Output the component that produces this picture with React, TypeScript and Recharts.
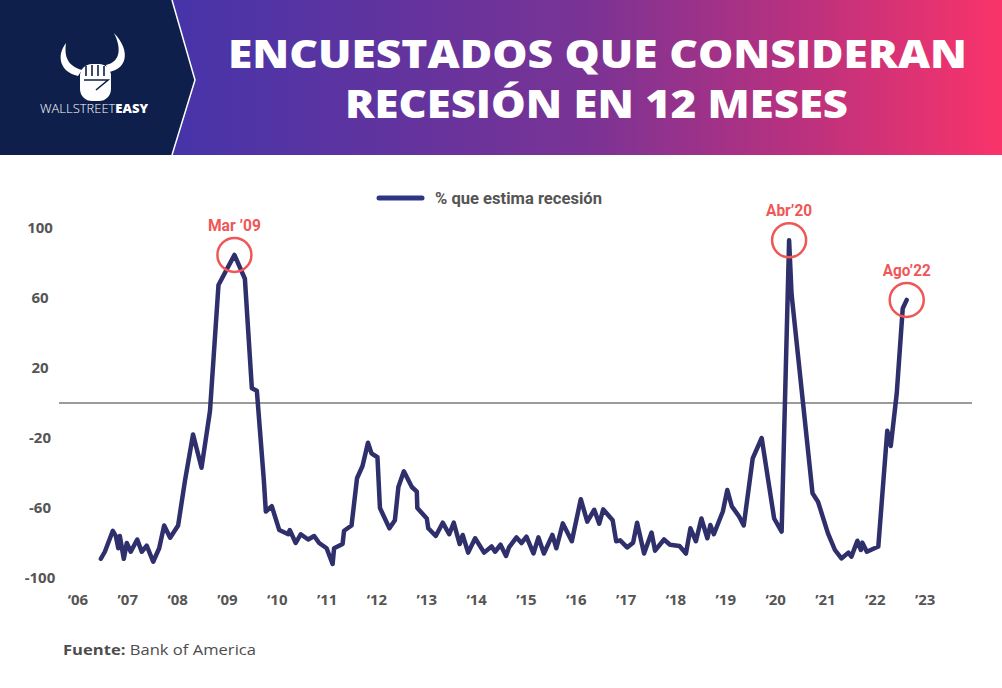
import { LineChart, Line, XAxis, YAxis, ReferenceLine, ReferenceDot } from "recharts";

// decimal year of each point
const dates = [
  2006.46, 2006.54, 2006.7, 2006.76, 2006.81, 2006.84, 2006.92, 2006.98, 2007.06, 2007.19,
  2007.28, 2007.38, 2007.51, 2007.63, 2007.73, 2007.85, 2008.01, 2008.15, 2008.31, 2008.48,
  2008.65, 2008.82, 2009.14, 2009.35, 2009.49, 2009.59, 2009.73, 2009.77, 2009.89, 2010.04,
  2010.22, 2010.25, 2010.37, 2010.47, 2010.62, 2010.74, 2010.84, 2010.99, 2011.11, 2011.14,
  2011.31, 2011.34, 2011.49, 2011.6, 2011.71, 2011.82, 2011.89, 2012.01, 2012.06, 2012.25,
  2012.36, 2012.43, 2012.54, 2012.7, 2012.8, 2012.81, 2013.0, 2013.03, 2013.18, 2013.32,
  2013.45, 2013.54, 2013.66, 2013.72, 2013.83, 2013.97, 2014.15, 2014.3, 2014.37, 2014.48,
  2014.59, 2014.65, 2014.8, 2014.9, 2015.0, 2015.14, 2015.24, 2015.35, 2015.52, 2015.6,
  2015.73, 2015.91, 2016.09, 2016.22, 2016.36, 2016.46, 2016.54, 2016.73, 2016.8, 2016.88,
  2017.02, 2017.14, 2017.22, 2017.36, 2017.51, 2017.58, 2017.76, 2017.88, 2018.07, 2018.2,
  2018.29, 2018.4, 2018.51, 2018.63, 2018.69, 2018.76, 2018.94, 2019.03, 2019.12, 2019.27,
  2019.36, 2019.54, 2019.72, 2019.97, 2020.12, 2020.27, 2020.32, 2020.74, 2020.85, 2021.05,
  2021.19, 2021.32, 2021.46, 2021.52, 2021.64, 2021.71, 2021.74, 2021.83, 2022.06, 2022.24,
  2022.31, 2022.43, 2022.55, 2022.63,
];

// % que estima recesión
const values = [
  -89, -85, -73, -76, -83, -76, -89, -80, -85, -78,
  -85, -81.5, -90.7, -83, -70, -77, -70, -44, -18, -37,
  -4.5, 67.4, 84.6, 71, 8.4, 7, -44, -62, -59, -72.6,
  -75, -72.6, -80, -75, -78, -76, -80, -83, -92, -83,
  -80.6, -73, -70, -43, -36, -22.7, -28.8, -31, -60, -71.6,
  -67, -48, -39, -48, -50.7, -60, -66, -71.6, -76, -68.4,
  -75, -68.4, -80.6, -75.4, -85.5, -77.3, -85.5, -82, -85, -81,
  -87.4, -82.5, -76.8, -80, -76.4, -86, -76.8, -86, -75.4, -83,
  -68.8, -79, -55, -67.8, -61, -69, -60.8, -67, -79, -78.5,
  -82.5, -79.8, -68.4, -86, -74, -84.4, -78, -81, -81.7, -86,
  -71.6, -79, -66, -77.3, -69.7, -75, -62, -49.7, -59, -65,
  -70, -31.6, -20, -66, -73.5, 93, 62, -51.6, -56.4, -74.5,
  -84, -88.8, -85.5, -87.8, -78.7, -84, -79.8, -85, -82, -15.8,
  -24.6, 5.5, 54, 58.9,
];

const tickYears = [
  2006, 2007, 2008, 2009, 2010, 2011, 2012, 2013, 2014, 2015, 2016, 2017, 2018, 2019, 2020,
  2021, 2022, 2023,
];
const tickLabels = [
  "‘06", "’07", "‘08", "’09", "‘10", "’11", "‘12", "’13", "‘14", "’15", "‘16", "’17", "‘18",
  "’19", "‘20", "’21", "‘22", "’23",
];
const yTicks = [100, 60, 20, -20, -60, -100];

const annotationDates = [2009.14, 2020.27, 2022.63];
const annotationLabels = ["Mar ’09", "Abr’20", "Ago’22"];
const annotationTextWidths = [53, 46, 48];

const data = dates.map((t, i) => ({ t, v: values[i] }));

const LINE_COLOR = "#2e2f6b";
const ACCENT = "#ef5757";
const AXIS_TEXT = "#555555";
const BODY_FONT = "'Open Sans', 'DejaVu Sans', sans-serif";
const NARROW_FONT = "Roboto, 'Open Sans', sans-serif";

function XTick({ x, y, payload }: any) {
  const idx = tickYears.indexOf(payload.value);
  return (
    <text x={x} y={y} dy="0.71em" textAnchor="middle" fill={AXIS_TEXT} fontSize={15} fontWeight={700} fontFamily={BODY_FONT}>
      {tickLabels[idx] ?? ""}
    </text>
  );
}

function YTick({ x, y, payload }: any) {
  return (
    <text x={x - 11} y={y} dy="0.36em" textAnchor="middle" fill={AXIS_TEXT} fontSize={15} fontWeight={700} fontFamily={BODY_FONT}>
      {payload.value}
    </text>
  );
}

function AnnotationLabel({ viewBox, text, width }: any) {
  if (!viewBox) return null;
  return (
    <text
      x={viewBox.x + viewBox.width / 2}
      y={viewBox.y - 7}
      textAnchor="middle"
      textLength={width}
      lengthAdjust="spacingAndGlyphs"
      fill={ACCENT}
      fontSize={17}
      fontWeight={700}
      fontFamily={NARROW_FONT}
    >
      {text}
    </text>
  );
}

function Header() {
  return (
    <svg width={1002} height={156} style={{ position: "absolute", left: 0, top: 0 }}>
      <defs>
        <linearGradient id="hdr" x1="172" y1="0" x2="1002" y2="0" gradientUnits="userSpaceOnUse">
          <stop offset="0" stopColor="#4634a9" />
          <stop offset="0.5" stopColor="#7a3395" />
          <stop offset="0.75" stopColor="#b8317f" />
          <stop offset="1" stopColor="#fa336a" />
        </linearGradient>
      </defs>
      <rect x={0} y={0} width={1002} height={155} fill="url(#hdr)" />
      <polygon points="0,0 172,0 195,80 172,155 0,155" fill="#0d1f4a" />
      <polyline points="172,0 195,80 172,155" fill="none" stroke="#ffffff" strokeWidth={1.5} />
      {/* bull logo */}
      <g fill="#ffffff">
        <path d="M78 76 C60 72, 56 56, 66 43 C64 57, 68 66, 82 70 Z" />
        <path d="M108 72 C126 70, 132 52, 114 33 C122 49, 120 62, 106 65 Z" />
        <rect x={80} y={64} width={31} height={37} rx={12} />
      </g>
      <g stroke="#0d1f4a" strokeWidth={1.6} fill="none">
        <path d="M86 66 L86 76 M92 65 L92 76 M98 65 L98 76 M104 66 L104 76" />
        <path d="M84 80 L108 80 L96 90" />
      </g>
      <text x={40} y={113} textLength={108} lengthAdjust="spacingAndGlyphs" fill="#ffffff" fontSize={13} fontFamily={BODY_FONT}>
        <tspan fontWeight={300}>WALLSTREET</tspan>
        <tspan fontWeight={800}>EASY</tspan>
      </text>
      <text x={228} y={68} textLength={739} lengthAdjust="spacingAndGlyphs" fill="#ffffff" fontSize={39} fontWeight={800} fontFamily={BODY_FONT}>
        ENCUESTADOS QUE CONSIDERAN
      </text>
      <text x={345} y={118} textLength={503} lengthAdjust="spacingAndGlyphs" fill="#ffffff" fontSize={39} fontWeight={800} fontFamily={BODY_FONT}>
        RECESIÓN EN 12 MESES
      </text>
    </svg>
  );
}

export default function App() {
  return (
    <div style={{ position: "absolute", left: 0, top: 0, width: 1002, height: 688, background: "#ffffff", overflow: "hidden" }}>
      <Header />
      <svg width={260} height={24} style={{ position: "absolute", left: 370, top: 186 }}>
        <line x1={9} y1={12} x2={52} y2={12} stroke="#2f3585" strokeWidth={5} strokeLinecap="round" />
        <text x={65} y={18} textLength={167} lengthAdjust="spacingAndGlyphs" fill={AXIS_TEXT} fontSize={17} fontWeight={700} fontFamily={NARROW_FONT}>
          % que estima recesión
        </text>
      </svg>
      <div style={{ position: "absolute", left: 0, top: 0 }}>
        <LineChart width={1002} height={688} data={data} margin={{ top: 228, right: 30, bottom: 80, left: 19 }}>
          <XAxis
            type="number"
            dataKey="t"
            domain={[2005.62, 2023.94]}
            ticks={tickYears}
            tick={<XTick />}
            axisLine={false}
            tickLine={false}
            tickMargin={10}
            height={30}
          />
          <YAxis
            type="number"
            domain={[-100, 100]}
            ticks={yTicks}
            tick={<YTick />}
            axisLine={false}
            tickLine={false}
            width={40}
          />
          <ReferenceLine y={0} stroke="#7a7a7a" strokeWidth={1.5} />
          <Line
            type="linear"
            dataKey="v"
            stroke={LINE_COLOR}
            strokeWidth={4.5}
            strokeLinejoin="round"
            strokeLinecap="round"
            dot={false}
            isAnimationActive={false}
          />
          {annotationDates.map((t, i) => (
            <ReferenceDot
              key={t}
              x={t}
              y={data.find((d) => d.t === t)?.v ?? 0}
              r={17}
              fill="none"
              stroke={ACCENT}
              strokeWidth={2.5}
              label={<AnnotationLabel text={annotationLabels[i]} width={annotationTextWidths[i]} />}
            />
          ))}
        </LineChart>
      </div>
      <svg width={260} height={24} style={{ position: "absolute", left: 60, top: 638 }}>
        <text x={3} y={17} textLength={193} lengthAdjust="spacingAndGlyphs" fill="#4d4d4d" fontSize={15} fontFamily={BODY_FONT}>
          <tspan fontWeight={700}>Fuente:</tspan>
          <tspan> Bank of America</tspan>
        </text>
      </svg>
    </div>
  );
}
